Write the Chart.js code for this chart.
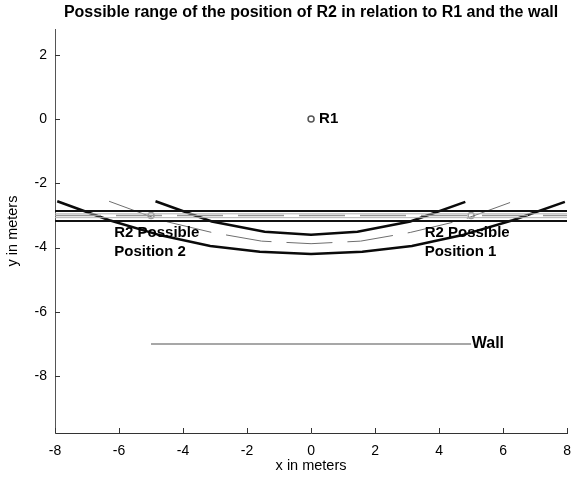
<!DOCTYPE html>
<html>
<head>
<meta charset="utf-8">
<script src="https://cdn.jsdelivr.net/npm/chart.js@4/dist/chart.umd.min.js"></script>
<style>
html,body{margin:0;padding:0;background:#fff;}
#wrap{width:581px;height:477px;}
</style>
</head>
<body>
<div id="wrap"><canvas id="c" width="581" height="477"></canvas></div>
<script>
// ---- data ----
const xTicks = [-8, -6, -4, -2, 0, 2, 4, 6, 8];
const yTicks = [2, 0, -2, -4, -6, -8];

// inner thick curve
const innerX = [-4.86, -3.1, -1.45, 0, 1.45, 3.1, 4.82];
const innerY = [-2.56, -3.19, -3.51, -3.6, -3.51, -3.19, -2.58];
// outer thick curve
const outerX = [-7.93, -6.3, -4.7, -3.15, -1.6, 0, 1.6, 3.15, 4.7, 6.3, 7.93];
const outerY = [-2.56, -3.15, -3.62, -3.95, -4.13, -4.2, -4.13, -3.95, -3.62, -3.15, -2.58];
// middle dashed gray curve
const midX = [-6.31, -4.7, -3.1, -1.55, 0, 1.55, 3.1, 4.7, 6.27];
const midY = [-2.56, -3.15, -3.53, -3.8, -3.88, -3.8, -3.53, -3.15, -2.58];

// horizontal band lines across the full width
const bandX = [-8, 8];
const bandBlackY = [-2.86, -3.17];
const bandGrayY = [-2.95, -3.07];
const bandDashY = -3.0;

// wall
const wallX = [-5, 5];
const wallY = [-7, -7];

// markers
const r1X = [0];
const r1Y = [0];
const r2X = [-5, 5];
const r2Y = [-3, -3];

const pts = (xs, ys) => xs.map((x, i) => ({x: x, y: ys[i]}));
const hline = (y) => bandX.map(x => ({x: x, y: y}));

const lineDs = (data, color, width, dash) => ({
  data: data, showLine: true, borderColor: color, borderWidth: width,
  borderDash: dash || [], pointRadius: 0, fill: false, tension: 0
});

const datasets = [
  lineDs(hline(bandGrayY[0]), '#b4b4b4', 1),
  lineDs(hline(bandGrayY[1]), '#b4b4b4', 1),
  lineDs(hline(bandDashY), '#999999', 1.5, [46, 15]),
  lineDs(hline(bandBlackY[0]), '#111111', 2),
  lineDs(hline(bandBlackY[1]), '#111111', 2),
  lineDs(pts(midX, midY), '#6e6e6e', 1, [46, 15]),
  lineDs(pts(innerX, innerY), '#0a0a0a', 2.5),
  lineDs(pts(outerX, outerY), '#0a0a0a', 2.5),
  lineDs(pts(wallX, wallY), '#8a8a8a', 1.6),
  {data: pts(r2X, r2Y), showLine: false, pointRadius: 3, pointBorderWidth: 1.5,
   pointBorderColor: '#9a9a9a', pointBackgroundColor: '#ffffff'},
  {data: pts(r1X, r1Y), showLine: false, pointRadius: 3, pointBorderWidth: 1.5,
   pointBorderColor: '#555555', pointBackgroundColor: '#ffffff'}
];

const FONT = '"Liberation Sans", Arial, sans-serif';

const labelsPlugin = {
  id: 'labels',
  afterDatasetsDraw(chart) {
    const {ctx, scales: {x, y}, chartArea} = chart;
    ctx.save();
    // inward tick marks
    ctx.strokeStyle = '#333';
    ctx.lineWidth = 1;
    xTicks.forEach(v => {
      const px = Math.round(x.getPixelForValue(v)) + 0.5;
      ctx.beginPath(); ctx.moveTo(px, chartArea.bottom); ctx.lineTo(px, chartArea.bottom - 5); ctx.stroke();
    });
    yTicks.forEach(v => {
      const py = Math.round(y.getPixelForValue(v)) + 0.5;
      ctx.beginPath(); ctx.moveTo(chartArea.left, py); ctx.lineTo(chartArea.left + 5, py); ctx.stroke();
    });
    ctx.fillStyle = '#000';
    ctx.textBaseline = 'middle';
    ctx.textAlign = 'left';
    ctx.font = 'bold 15px ' + FONT;
    ctx.fillText('R1', x.getPixelForValue(0.25), y.getPixelForValue(0));
    ctx.font = 'bold 16px ' + FONT;
    ctx.fillText('Wall', x.getPixelForValue(5.02), y.getPixelForValue(-7));
    ctx.font = 'bold 15px ' + FONT;
    ctx.fillText('R2 Possible', x.getPixelForValue(-6.15), y.getPixelForValue(-3.55));
    ctx.fillText('Position 2', x.getPixelForValue(-6.15), y.getPixelForValue(-4.14));
    ctx.fillText('R2 Possible', x.getPixelForValue(3.55), y.getPixelForValue(-3.55));
    ctx.fillText('Position 1', x.getPixelForValue(3.55), y.getPixelForValue(-4.14));
    ctx.restore();
  }
};

new Chart(document.getElementById('c'), {
  type: 'scatter',
  data: {datasets: datasets},
  options: {
    responsive: false,
    animation: false,
    layout: {padding: {left: 0, right: 12, top: 0, bottom: 0}},
    plugins: {
      legend: {display: false},
      tooltip: {enabled: false},
      title: {
        display: true,
        fullSize: false,
        text: 'Possible range of the position of R2 in relation to R1 and the wall',
        color: '#000',
        font: {family: FONT, size: 16, weight: 'bold'},
        padding: {top: 3, bottom: 6.8}
      }
    },
    scales: {
      x: {
        type: 'linear', min: -8, max: 8, position: 'bottom',
        afterBuildTicks: s => { s.ticks = xTicks.map(v => ({value: v})); },
        afterFit: s => { s.height = 44; },
        grid: {display: true, drawOnChartArea: false, drawTicks: false},
        border: {display: true, color: '#333', width: 1},
        ticks: {color: '#000', padding: 10, maxRotation: 0,
                font: {family: FONT, size: 14}},
        title: {display: true, text: 'x in meters', color: '#000',
                font: {family: FONT, size: 14.5},
                padding: {top: 0, bottom: 2}}
      },
      y: {
        type: 'linear', min: -9.77, max: 2.8, position: 'left',
        afterBuildTicks: s => { s.ticks = yTicks.map(v => ({value: v})); },
        afterFit: s => { s.width = 55; },
        grid: {display: true, drawOnChartArea: false, drawTicks: false},
        border: {display: true, color: '#555', width: 1},
        ticks: {color: '#000', padding: 8,
                font: {family: FONT, size: 14}},
        title: {display: true, text: 'y in meters', color: '#000',
                font: {family: FONT, size: 14.5},
                padding: {top: 4.3, bottom: 0}}
      }
    }
  },
  plugins: [labelsPlugin]
});
</script>
</body>
</html>
